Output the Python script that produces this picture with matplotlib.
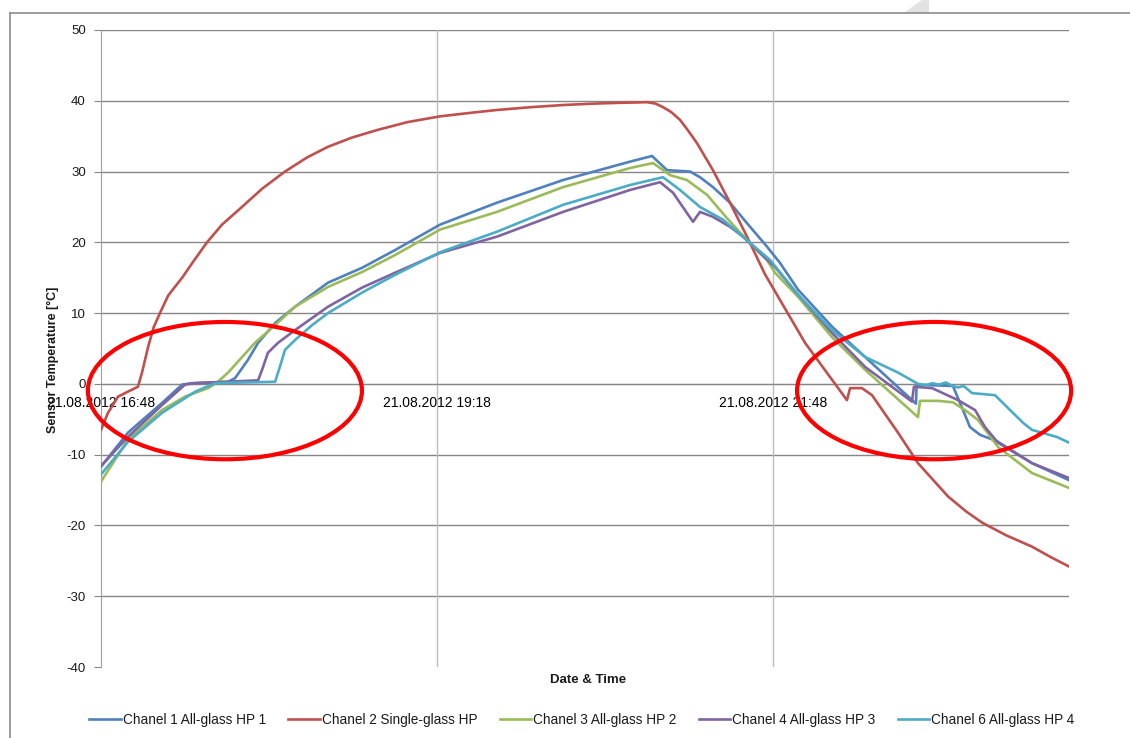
import matplotlib

matplotlib.use("Agg")
import matplotlib.pyplot as plt
from matplotlib.lines import Line2D
from matplotlib.patches import Ellipse, Polygon

plt.rcParams["font.family"] = ["Liberation Sans", "DejaVu Sans"]
plt.rcParams["axes.unicode_minus"] = False

# time axis: minutes after 21.08.2012 16:48
x_ticks = [0, 150, 300]
x_tick_labels = ["21.08.2012 16:48", "21.08.2012 19:18", "21.08.2012 21:48"]
y_ticks = [50, 40, 30, 20, 10, 0, -10, -20, -30, -40]

ch1_t = [0, 12.0, 27.2, 36.2, 40.6, 56.7, 59.8, 65.6, 70.1, 77.7, 86.6, 101.3, 116.5, 131.2,
         151.3, 176.7, 206.2, 236.1, 245.9, 252.6, 262.9, 267.3, 273.1, 280.7, 288.3, 297.2,
         303.0, 311.1, 326.2, 341.0, 363.7, 364.0, 380.2, 384.7, 387.8, 392.3, 399.9, 415.5, 432]
ch1_v = [-11.7, -6.9, -2.7, -0.1, 0.1, 0.3, 0.8, 3.4, 5.8, 8.6, 10.9, 14.3, 16.4, 18.9,
         22.5, 25.6, 28.8, 31.4, 32.2, 30.2, 30.0, 29.2, 27.8, 25.6, 22.7, 19.4,
         17.1, 13.3, 8.1, 3.8, -2.8, -0.1, -0.3, -3.7, -6.1, -7.2, -8.1, -11.2, -13.6]

ch2_t = [0, 3.1, 7.6, 12.0, 16.5, 18.3, 21.0, 23.5, 26.3, 30.0, 36.2, 41.0, 47.3, 54.0,
         62.9, 72.0, 82.1, 92.0, 101.3, 112.0, 123.6, 137.0, 151.3, 165.0, 176.7, 192.0,
         206.2, 220.0, 230.3, 243.7, 247.5, 250.8, 254.5, 258.4, 262.0, 266.0, 273.1, 280.7,
         288.3, 296.3, 314.2, 332.9, 334.3, 339.6, 344.1, 355.7, 364.6, 378.0, 386.0, 393.2,
         404.0, 415.5, 424.0, 432]
ch2_v = [-6.5, -4.1, -1.8, -1.1, -0.4, 1.6, 5.2, 8.0, 10.0, 12.5, 15.0, 17.2, 20.0, 22.5,
         25.0, 27.6, 30.0, 32.0, 33.5, 34.8, 35.9, 37.0, 37.8, 38.3, 38.7, 39.1,
         39.4, 39.6, 39.7, 39.8, 39.6, 39.1, 38.4, 37.3, 35.8, 34.0, 30.2, 25.6,
         20.8, 15.5, 5.8, -2.3, -0.6, -0.6, -1.6, -6.9, -11.2, -15.9, -18.0, -19.6,
         -21.4, -23.0, -24.5, -25.8]

ch3_t = [0, 12.0, 27.2, 37.5, 47.8, 52.2, 56.7, 63.0, 68.7, 77.7, 86.6, 101.3, 116.5, 131.2,
         151.3, 176.7, 206.2, 236.1, 246.4, 253.9, 261.5, 270.5, 279.4, 288.3, 297.2, 300.8,
         311.1, 326.2, 341.0, 364.6, 365.5, 373.6, 380.2, 385.6, 391.4, 400.3, 415.5, 432]
ch3_v = [-13.8, -7.9, -3.7, -1.8, -0.6, 0.3, 1.6, 3.8, 5.8, 8.3, 10.9, 13.7, 15.8, 18.2,
         21.8, 24.3, 27.8, 30.5, 31.2, 29.5, 28.8, 26.7, 23.4, 20.3, 17.5, 15.7,
         12.3, 6.6, 2.0, -4.7, -2.4, -2.4, -2.6, -3.7, -5.1, -8.9, -12.6, -14.7]

ch4_t = [0, 12.0, 27.2, 37.5, 42.0, 70.1, 71.9, 74.5, 79.0, 86.6, 101.3, 116.5, 131.2, 151.3,
         176.7, 206.2, 236.1, 249.5, 255.3, 264.2, 267.3, 273.1, 280.7, 286.5, 300.8, 311.1,
         326.2, 341.0, 361.9, 362.8, 370.9, 382.5, 390.1, 394.5, 400.3, 415.5, 432]
ch4_v = [-11.6, -7.5, -3.0, -0.1, 0.1, 0.5, 2.0, 4.4, 5.8, 7.6, 10.9, 13.6, 15.7, 18.5,
         20.8, 24.3, 27.4, 28.5, 27.0, 22.9, 24.3, 23.6, 22.2, 20.8, 16.5, 12.6,
         7.2, 2.4, -2.5, -0.4, -0.6, -2.3, -3.7, -6.1, -8.3, -11.2, -13.3]

ch6_t = [0, 12.0, 27.2, 42.0, 50.9, 77.7, 80.3, 82.1, 86.6, 94.2, 101.3, 116.5, 131.2, 151.3,
         176.7, 206.2, 236.1, 250.8, 258.4, 267.3, 277.6, 288.3, 298.6, 311.1, 326.2, 341.0,
         355.7, 364.6, 368.0, 371.0, 374.0, 377.0, 380.0, 382.5, 385.0, 388.7, 399.0, 405.7,
         411.5, 415.5, 426.6, 432]
ch6_v = [-12.8, -8.2, -4.1, -1.1, 0.1, 0.3, 2.9, 4.8, 6.2, 8.3, 10.0, 12.9, 15.4, 18.6,
         21.5, 25.3, 28.1, 29.2, 27.4, 25.0, 23.2, 20.3, 17.5, 12.6, 7.6, 3.8,
         1.6, 0.0, -0.2, 0.1, -0.1, 0.2, -0.3, -0.5, -0.3, -1.3, -1.6, -3.7,
         -5.5, -6.5, -7.5, -8.3]

series = [
    ("Chanel 1 All-glass HP 1", ch1_t, ch1_v, "#4F81BD"),
    ("Chanel 2 Single-glass HP", ch2_t, ch2_v, "#C0504D"),
    ("Chanel 3 All-glass HP 2", ch3_t, ch3_v, "#9BBB59"),
    ("Chanel 4 All-glass HP 3", ch4_t, ch4_v, "#8064A2"),
    ("Chanel 6 All-glass HP 4", ch6_t, ch6_v, "#4BACC6"),
]

W, H = 1130, 738
fig = plt.figure(figsize=(W / 100, H / 100), dpi=100)
ax = fig.add_axes([101 / W, 1 - 667 / H, 968 / W, 637 / H])

txt = "#1a1a1a"
for yt in y_ticks:
    if yt > -40:
        ax.axhline(yt, color="#868686", lw=1.0, zorder=1)
for xt in x_ticks[1:]:
    ax.axvline(xt, color="#bdbdbd", lw=1.0, zorder=1)

for name, t, v, c in series:
    ax.plot(t, v, color=c, lw=1.9, label=name, zorder=3, solid_joinstyle="round")

# red markings around the phase-change regions
for cx in (55.3, 371.8):
    ax.add_patch(Ellipse((cx, -0.95), 122.3, 19.4, fill=False, ec="#FF0000", lw=3.0,
                         zorder=5, clip_on=False))

ax.set_xlim(0, 432)
ax.set_ylim(-40, 50)
ax.set_yticks(y_ticks)
ax.set_yticklabels([str(y) for y in y_ticks], fontsize=9.5, color=txt)
ax.set_xticks(x_ticks)
ax.set_xticklabels(x_tick_labels, fontsize=9.5, color=txt)
ax.tick_params(axis="x", length=0, pad=9)
ax.tick_params(axis="y", length=5, color="#868686", pad=6)

for s in ("top", "right"):
    ax.spines[s].set_visible(False)
ax.spines["bottom"].set_position(("data", 0))
ax.spines["bottom"].set_color("#868686")
ax.spines["left"].set_color("#a0a0a0")

fig.text(53 / W, 1 - 360 / H, "Sensor Temperature [°C]", rotation=90, ha="center",
         va="center", fontsize=9, fontweight="bold", color=txt)
fig.text(588 / W, 1 - 680 / H, "Date & Time", ha="center", va="center", fontsize=9.5,
         fontweight="bold", color=txt)

fig.legend(loc="center", bbox_to_anchor=(582 / W, 1 - 720 / H), ncol=5, frameon=False,
           fontsize=9.8, handlelength=2.3, handletextpad=0.15, columnspacing=1.65,
           labelcolor=txt)

# page frame from the scanned document
fig.add_artist(Line2D([10 / W, 1], [1 - 13 / H] * 2, transform=fig.transFigure,
                      color="#8c8c8c", lw=1.2))
fig.add_artist(Line2D([10 / W, 10 / W], [0, 1 - 13 / H], transform=fig.transFigure,
                      color="#8c8c8c", lw=1.2))
fig.add_artist(Polygon([(904 / W, 1 - 13 / H), (922 / W, 1), (929 / W, 1), (929 / W, 1 - 13 / H)],
                       closed=True, transform=fig.transFigure, fc="#e2e2e2", ec="none"))

fig.savefig("out.png", dpi=100)
